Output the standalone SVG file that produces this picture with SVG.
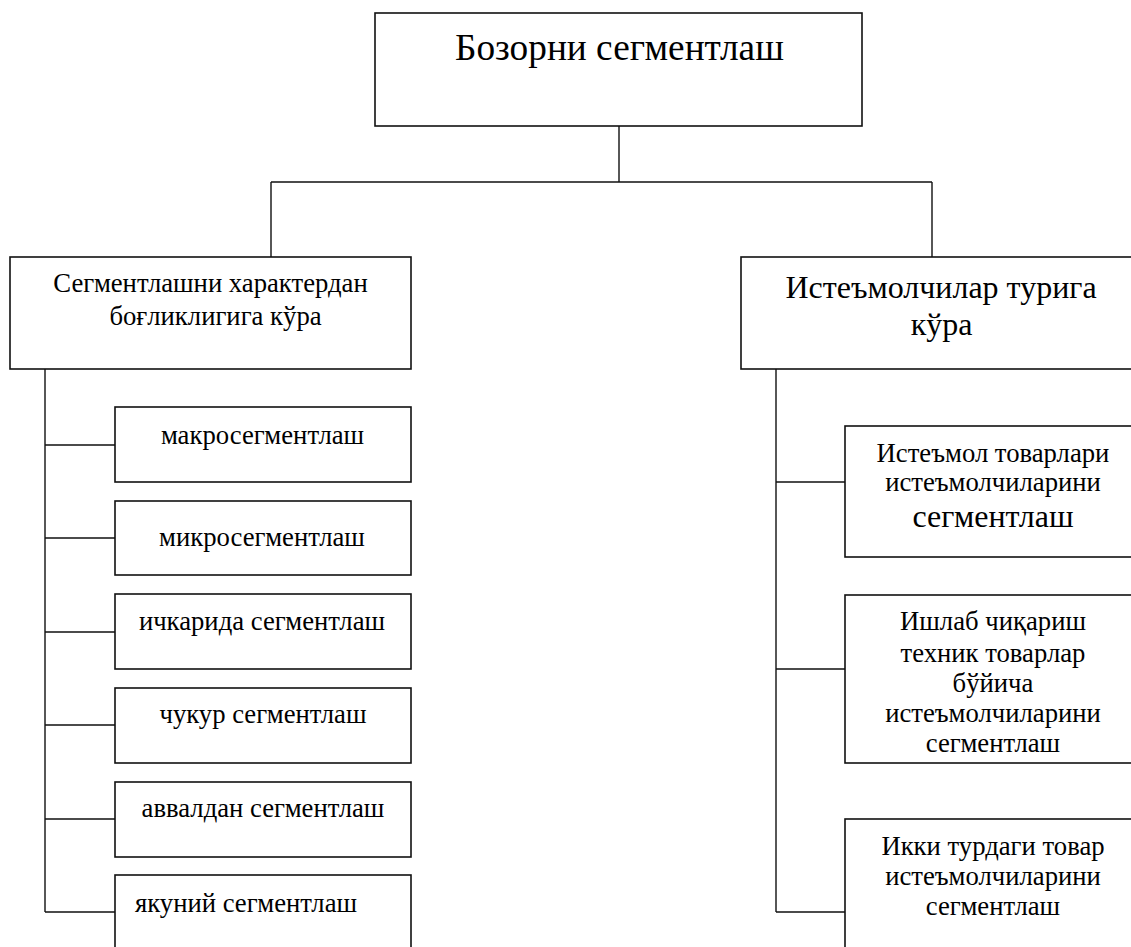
<svg xmlns="http://www.w3.org/2000/svg" width="1131" height="947" viewBox="0 0 1131 947">
<style>
.box{fill:#fff;stroke:#111;stroke-width:1.6}
.ln{fill:none;stroke:#111;stroke-width:1.4}
text{font-family:"Liberation Serif","Times New Roman",serif;fill:#000}
.c{text-anchor:middle}
.s20{font-size:26.7px}
.s24{font-size:32px}
.s28{font-size:37.3px}
</style>
<g id="connectors">
<path class="ln" d="M619,126 V182 M271,182 H932 M271,182 V257 M932,182 V257"/>
<path class="ln" d="M45,369 V912 M45,445 H115 M45,538 H115 M45,632 H115 M45,725 H115 M45,819 H115 M45,912 H115"/>
<path class="ln" d="M776,369 V912 M776,482 H845 M776,669 H845 M776,912 H845"/>
</g>
<g id="root">
<rect class="box" x="375" y="13" width="487" height="113"/>
<text class="s28" x="455" y="60">Бозорни сегментлаш</text>
</g>
<g id="left-head">
<rect class="box" x="10" y="257" width="401" height="112"/>
<text class="s20 c" x="210.5" y="292">Сегментлашни характердан</text>
<text class="s20 c" x="215.5" y="325">боғликлигига кўра</text>
</g>
<g id="right-head">
<rect class="box" x="741" y="257" width="400" height="112"/>
<text class="s24 c" x="941" y="298">Истеъмолчилар турига</text>
<text class="s24 c" x="941.5" y="335">кўра</text>
</g>
<g id="macro">
<rect class="box" x="115" y="407" width="296" height="75"/>
<text class="s20 c" x="262.5" y="444">макросегментлаш</text>
</g>
<g id="micro">
<rect class="box" x="115" y="501" width="296" height="74"/>
<text class="s20 c" x="262" y="546">микросегментлаш</text>
</g>
<g id="inner">
<rect class="box" x="115" y="594" width="296" height="75"/>
<text class="s20 c" x="262" y="630">ичкарида сегментлаш</text>
</g>
<g id="deep">
<rect class="box" x="115" y="688" width="296" height="75"/>
<text class="s20 c" x="263" y="723">чукур сегментлаш</text>
</g>
<g id="prior">
<rect class="box" x="115" y="782" width="296" height="75"/>
<text class="s20 c" x="263" y="817">аввалдан сегментлаш</text>
</g>
<g id="final">
<rect class="box" x="115" y="875" width="296" height="90"/>
<text class="s20 c" x="246" y="912">якуний сегментлаш</text>
</g>
<g id="consumer">
<rect class="box" x="845" y="426" width="300" height="131"/>
<text class="s20 c" x="993" y="462">Истеъмол товарлари</text>
<text class="s20 c" x="993" y="491">истеъмолчиларини</text>
<text class="s24 c" x="993" y="527">сегментлаш</text>
</g>
<g id="industrial">
<rect class="box" x="845" y="595" width="300" height="168"/>
<text class="s20 c" x="993" y="630">Ишлаб чиқариш</text>
<text class="s20 c" x="993" y="662">техник товарлар</text>
<text class="s20 c" x="993" y="692">бўйича</text>
<text class="s20 c" x="993" y="722">истеъмолчиларини</text>
<text class="s20 c" x="993" y="752">сегментлаш</text>
</g>
<g id="both">
<rect class="box" x="845" y="819" width="300" height="150"/>
<text class="s20 c" x="993" y="855">Икки турдаги товар</text>
<text class="s20 c" x="993" y="885">истеъмолчиларини</text>
<text class="s20 c" x="993" y="915">сегментлаш</text>
</g>
</svg>
